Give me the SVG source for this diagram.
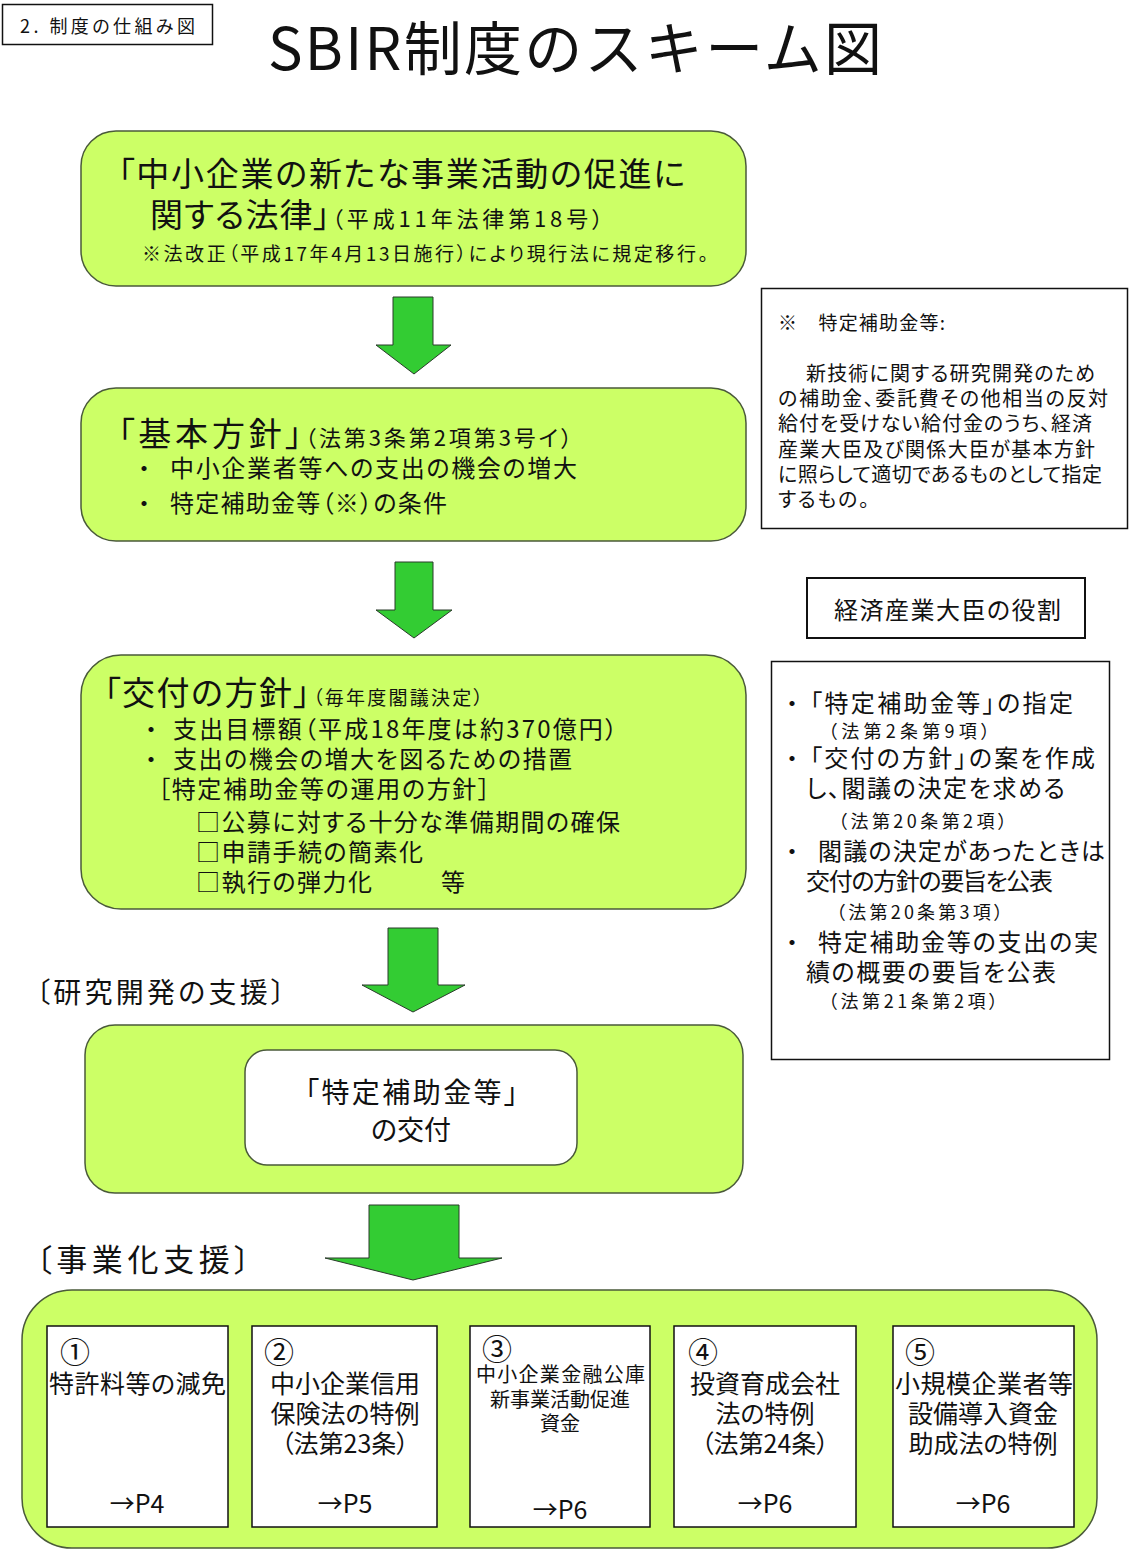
<svg xmlns="http://www.w3.org/2000/svg" width="1129" height="1551" viewBox="0 0 1129 1551">
<style>
text{font-family:"Noto Sans CJK JP","Noto Sans CJK SC","Liberation Sans",sans-serif;fill:#111;font-feature-settings:"palt";}
.gbox{fill:#ccff66;stroke:#4a5a3a;stroke-width:1.5;}
.wbox{fill:#fff;stroke:#111;stroke-width:1.5;}
.arrow{fill:#33cc33;stroke:#2a3a2a;stroke-width:1;}
.big{font-size:33px;}
.mid{font-size:24px;}
.sm{font-size:19px;}
.paren{font-size:18px;}
.note{font-size:20px;}
.bx{font-size:25px;}
.num{font-size:30px;}
.mid-c{font-size:25px;text-anchor:middle;}
</style>
<rect width="1129" height="1551" fill="#fff"/>

<g id="section-label">
<rect x="2.5" y="4.5" width="210" height="40" fill="#fff" stroke="#111" stroke-width="1.5"/>
<text x="20" y="33" font-size="18" textLength="175">2. 制度の仕組み図</text>
</g>

<g id="title">
<text x="268" y="70" font-size="58" textLength="614" style="font-feature-settings:normal">SBIR制度のスキーム図</text>
</g>

<g id="node-law">
<rect class="gbox" x="81" y="131" width="665" height="155" rx="35"/>
<text class="big" x="118" y="186" textLength="567">「中小企業の新たな事業活動の促進に</text>
<text y="227"><tspan class="big" x="150" textLength="180">関する法律」</tspan><tspan x="332" font-size="22" textLength="271">（平成11年法律第18号）</tspan></text>
<text class="sm" x="142" y="261" textLength="566">※法改正（平成17年4月13日施行）により現行法に規定移行。</text>
</g>

<g id="node-basic">
<rect class="gbox" x="81" y="388" width="665" height="153" rx="35"/>
<text y="446"><tspan class="big" x="118" textLength="184">「基本方針」</tspan><tspan x="305" font-size="22" textLength="267">（法第3条第2項第3号イ）</tspan></text>
<text class="mid" x="138" y="477">・</text>
<text class="mid" x="170" y="477" textLength="407">中小企業者等への支出の機会の増大</text>
<text class="mid" x="138" y="512">・</text>
<text class="mid" x="170" y="512" textLength="277">特定補助金等（※）の条件</text>
</g>

<g id="node-policy">
<rect class="gbox" x="81" y="655" width="665" height="254" rx="40"/>
<text y="705"><tspan class="big" x="104" textLength="206">「交付の方針」</tspan><tspan x="313" font-size="19" textLength="170">（毎年度閣議決定）</tspan></text>
<text class="mid" x="145" y="738">・</text>
<text class="mid" x="173" y="738" textLength="444">支出目標額（平成18年度は約370億円）</text>
<text class="mid" x="145" y="768">・</text>
<text class="mid" x="173" y="768" textLength="399">支出の機会の増大を図るための措置</text>
<text class="mid" x="158" y="798" textLength="332">［特定補助金等の運用の方針］</text>
<text class="mid" x="196" y="831" textLength="424">□公募に対する十分な準備期間の確保</text>
<text class="mid" x="196" y="861" textLength="227">□申請手続の簡素化</text>
<text class="mid" x="196" y="891" textLength="176">□執行の弾力化</text>
<text class="mid" x="441" y="891">等</text>
</g>

<g id="note-definition">
<rect x="761.5" y="288.5" width="366" height="240" fill="#fff" stroke="#111" stroke-width="1.5"/>
<text x="778" y="330" font-size="19" textLength="167">※　特定補助金等:</text>
<text class="note" x="806" y="381" textLength="289">新技術に関する研究開発のため</text>
<text class="note" x="778" y="406" textLength="330">の補助金、委託費その他相当の反対</text>
<text class="note" x="778" y="431" textLength="314">給付を受けない給付金のうち、経済</text>
<text class="note" x="778" y="457" textLength="317">産業大臣及び関係大臣が基本方針</text>
<text class="note" x="778" y="482" textLength="324">に照らして適切であるものとして指定</text>
<text class="note" x="778" y="507" textLength="91">するもの。</text>
</g>

<g id="role-title">
<rect x="807" y="578" width="278" height="60" fill="#fff" stroke="#111" stroke-width="2"/>
<text x="834" y="619" font-size="24" textLength="227">経済産業大臣の役割</text>
</g>

<g id="role-list">
<rect x="771.5" y="661.5" width="338" height="398" fill="#fff" stroke="#111" stroke-width="1.5"/>
<text class="mid" x="786" y="712">・</text>
<text class="mid" x="810" y="712" textLength="263">「特定補助金等」の指定</text>
<text class="paren" x="828" y="738" textLength="162">（法第2条第9項）</text>
<text class="mid" x="786" y="767">・</text>
<text class="mid" x="810" y="767" textLength="285">「交付の方針」の案を作成</text>
<text class="mid" x="806" y="797" textLength="259">し、閣議の決定を求める</text>
<text class="paren" x="838" y="828" textLength="169">（法第20条第2項）</text>
<text class="mid" x="786" y="860">・</text>
<text class="mid" x="818" y="860" textLength="287">閣議の決定があったときは</text>
<text class="mid" x="806" y="890" textLength="247">交付の方針の要旨を公表</text>
<text class="paren" x="836" y="919" textLength="167">（法第20条第3項）</text>
<text class="mid" x="786" y="951">・</text>
<text class="mid" x="818" y="951" textLength="280">特定補助金等の支出の実</text>
<text class="mid" x="806" y="981" textLength="250">績の概要の要旨を公表</text>
<text class="paren" x="828" y="1008" textLength="170">（法第21条第2項）</text>
</g>

<g id="label-rd">
<text x="36" y="1003" font-size="28" textLength="249">〔研究開発の支援〕</text>
</g>

<g id="node-grant">
<rect class="gbox" x="85" y="1025" width="658" height="168" rx="30"/>
<rect x="245" y="1050" width="332" height="115" rx="22" fill="#fff" stroke="#4a5a3a" stroke-width="1.5"/>
<text x="305" y="1103" font-size="28" textLength="213">「特定補助金等」</text>
<text x="411" y="1140" font-size="27" text-anchor="middle">の交付</text>
</g>

<g id="label-biz">
<text x="36" y="1271" font-size="31" textLength="214">〔事業化支援〕</text>
</g>

<g id="node-biz-group">
<rect class="gbox" x="22" y="1290" width="1075" height="258" rx="50"/>
</g>

<g id="node-b1">
<rect class="wbox" x="47" y="1326" width="181" height="201"/>
<text class="num" x="60" y="1363">①</text>
<text class="bx" x="49" y="1393" textLength="177">特許料等の減免</text>
<text class="mid-c" x="137" y="1513">→P4</text>
</g>

<g id="node-b2">
<rect class="wbox" x="252" y="1326" width="185" height="201"/>
<text class="num" x="264" y="1363">②</text>
<text class="mid-c" x="345" y="1393">中小企業信用</text>
<text class="mid-c" x="345" y="1423">保険法の特例</text>
<text class="mid-c" x="345" y="1453">（法第23条）</text>
<text class="mid-c" x="345" y="1513">→P5</text>
</g>

<g id="node-b3">
<rect class="wbox" x="470" y="1326" width="180" height="201"/>
<text class="num" x="482" y="1360" font-size="27">③</text>
<text x="476" y="1382" font-size="20" textLength="169">中小企業金融公庫</text>
<text x="560" y="1407" font-size="20" text-anchor="middle">新事業活動促進</text>
<text x="560" y="1431" font-size="20" text-anchor="middle">資金</text>
<text class="mid-c" x="560" y="1519">→P6</text>
</g>

<g id="node-b4">
<rect class="wbox" x="674" y="1326" width="182" height="201"/>
<text class="num" x="688" y="1363">④</text>
<text class="mid-c" x="765" y="1393">投資育成会社</text>
<text class="mid-c" x="765" y="1423">法の特例</text>
<text class="mid-c" x="765" y="1453">（法第24条）</text>
<text class="mid-c" x="765" y="1513">→P6</text>
</g>

<g id="node-b5">
<rect class="wbox" x="893" y="1326" width="181" height="201"/>
<text class="num" x="905" y="1363">⑤</text>
<text class="bx" x="895" y="1393" textLength="178">小規模企業者等</text>
<text class="mid-c" x="983" y="1423">設備導入資金</text>
<text class="mid-c" x="983" y="1453">助成法の特例</text>
<text class="mid-c" x="983" y="1513">→P6</text>
</g>

<g id="connectors">
<polygon class="arrow" points="393,297 433,297 433,345 451,345 414,374 376,345 393,345"/>
<polygon class="arrow" points="395,562 433,562 433,610 452,610 414,638 376,610 395,610"/>
<polygon class="arrow" points="388,928 438,928 438,985 465,985 413,1012 362,985 388,985"/>
<polygon class="arrow" points="369,1205 459,1205 459,1258 502,1258 413,1280 325,1258 369,1258"/>
</g>
</svg>
